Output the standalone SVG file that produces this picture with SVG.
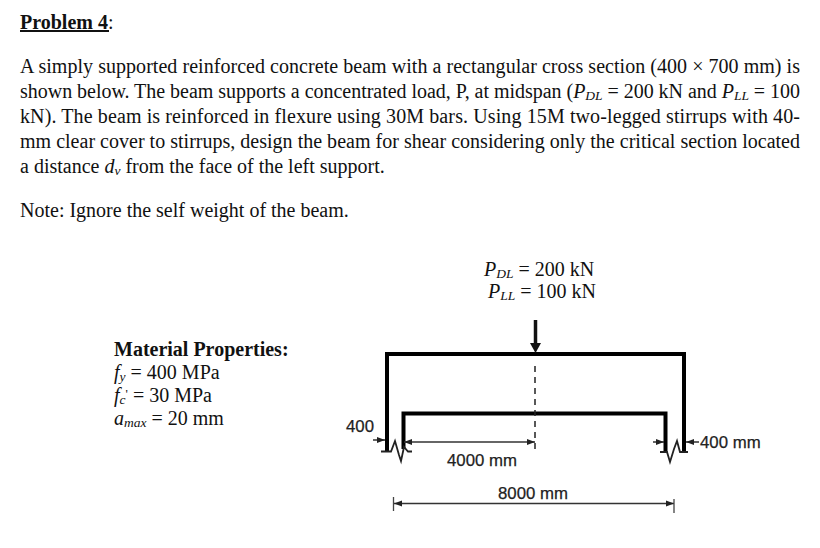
<svg xmlns="http://www.w3.org/2000/svg" width="820" height="548" viewBox="0 0 820 548">
<style>
text{font-family:"Liberation Serif","Times New Roman",serif;font-size:20px;fill:#111}
.i{font-style:italic}
.s{font-size:13.500px;font-style:italic}
.a{font-family:"Liberation Sans",Arial,sans-serif;font-size:16.800px;fill:#222;stroke:#222;stroke-width:.25}
.b{fill:none;stroke:#000;stroke-width:4;stroke-linejoin:miter}
.t{fill:none;stroke:#222;stroke-width:1.800}
.d{fill:none;stroke:#333;stroke-width:1.500;marker-start:url(#al);marker-end:url(#ar)}
.h{fill:none;stroke:#222;stroke-width:1.400;marker-end:url(#ar)}
</style>
<defs>
<marker id="ar" markerUnits="userSpaceOnUse" markerWidth="10" markerHeight="8" refX="9" refY="4" orient="auto"><path d="M1 1L9 4L1 7z" fill="#222"/></marker>
<marker id="al" markerUnits="userSpaceOnUse" markerWidth="10" markerHeight="8" refX="1" refY="4" orient="auto"><path d="M9 1L1 4L9 7z" fill="#222"/></marker>
</defs>
<rect width="820" height="548" fill="#fff"/>
<g id="problem-text">
<text x="20" y="29" font-weight="bold">Problem 4<tspan font-weight="normal">:</tspan></text>
<rect x="20" y="30" width="89" height="2" fill="#111"/>
<text x="20" y="73" textLength="780" lengthAdjust="spacing">A simply supported reinforced concrete beam with a rectangular cross section (400 × 700 mm) is</text>
<text x="20" y="98" textLength="780" lengthAdjust="spacing">shown below. The beam supports a concentrated load, P, at midspan (<tspan class="i">P</tspan><tspan class="s" dy="2">DL</tspan><tspan dy="-2"> = 200 kN and </tspan><tspan class="i">P</tspan><tspan class="s" dy="2">LL</tspan><tspan dy="-2"> = 100</tspan></text>
<text x="20" y="123" textLength="780" lengthAdjust="spacing">kN). The beam is reinforced in flexure using 30M bars. Using 15M two-legged stirrups with 40-</text>
<text x="20" y="148" textLength="780" lengthAdjust="spacing">mm clear cover to stirrups, design the beam for shear considering only the critical section located</text>
<text x="20" y="173">a distance <tspan class="i">d</tspan><tspan class="s" dy="2">v</tspan><tspan dy="-2"> from the face of the left support.</tspan></text>
<text x="20" y="217">Note: Ignore the self weight of the beam.</text>
</g>
<g id="material-properties">
<text x="114" y="356" font-weight="bold">Material Properties:</text>
<text x="114" y="379"><tspan class="i">f</tspan><tspan class="s" dy="2">y</tspan><tspan dy="-2"> = 400 MPa</tspan></text>
<text x="114" y="402"><tspan class="i">f</tspan><tspan class="s" dy="2">c</tspan><tspan dy="-6" font-size="13">'</tspan><tspan dy="4"> = 30 MPa</tspan></text>
<text x="114" y="425"><tspan class="i">a</tspan><tspan class="s" dy="2">max</tspan><tspan dy="-2"> = 20 mm</tspan></text>
</g>
<g id="load-labels">
<text x="484" y="276"><tspan class="i">P</tspan><tspan class="s" dy="2">DL</tspan><tspan dy="-2"> = 200 kN</tspan></text>
<text x="488" y="298"><tspan class="i">P</tspan><tspan class="s" dy="2">LL</tspan><tspan dy="-2"> = 100 kN</tspan></text>
</g>
<g id="beam">
<path class="b" d="M387 452V354H684V452"/>
<path class="b" d="M403.500 449V413.500H665.500V452"/>
<path class="t" d="M381 451.500H391L395 441L399 455L401 461L404 447L408 451.500H412"/>
<path class="t" d="M660 452H667L670 462L674 449L677 441L680 452H688"/>
</g>
<g id="connectors">
<path d="M535.500 320V344" stroke="#111" stroke-width="3.500" fill="none"/>
<path d="M530 343H541L535.500 353z" fill="#111"/>
<path d="M535 366V450" stroke="#222" stroke-width="1.500" stroke-dasharray="6 5" fill="none"/>
<path class="d" d="M404 442H535"/>
<path class="d" d="M394 503.500H674"/>
<path d="M393.500 497V511M674 499V513" stroke="#444" stroke-width="1.300" fill="none"/>
<path class="h" d="M373 440H385"/>
<path class="h" d="M653 442H664"/>
<path class="h" d="M699 442H686"/>
</g>
<g id="dimension-labels">
<text class="a" x="346" y="432">400</text>
<text class="a" x="447" y="466">4000 mm</text>
<text class="a" x="498" y="499">8000 mm</text>
<text class="a" x="700" y="448">400 mm</text>
</g>
</svg>
